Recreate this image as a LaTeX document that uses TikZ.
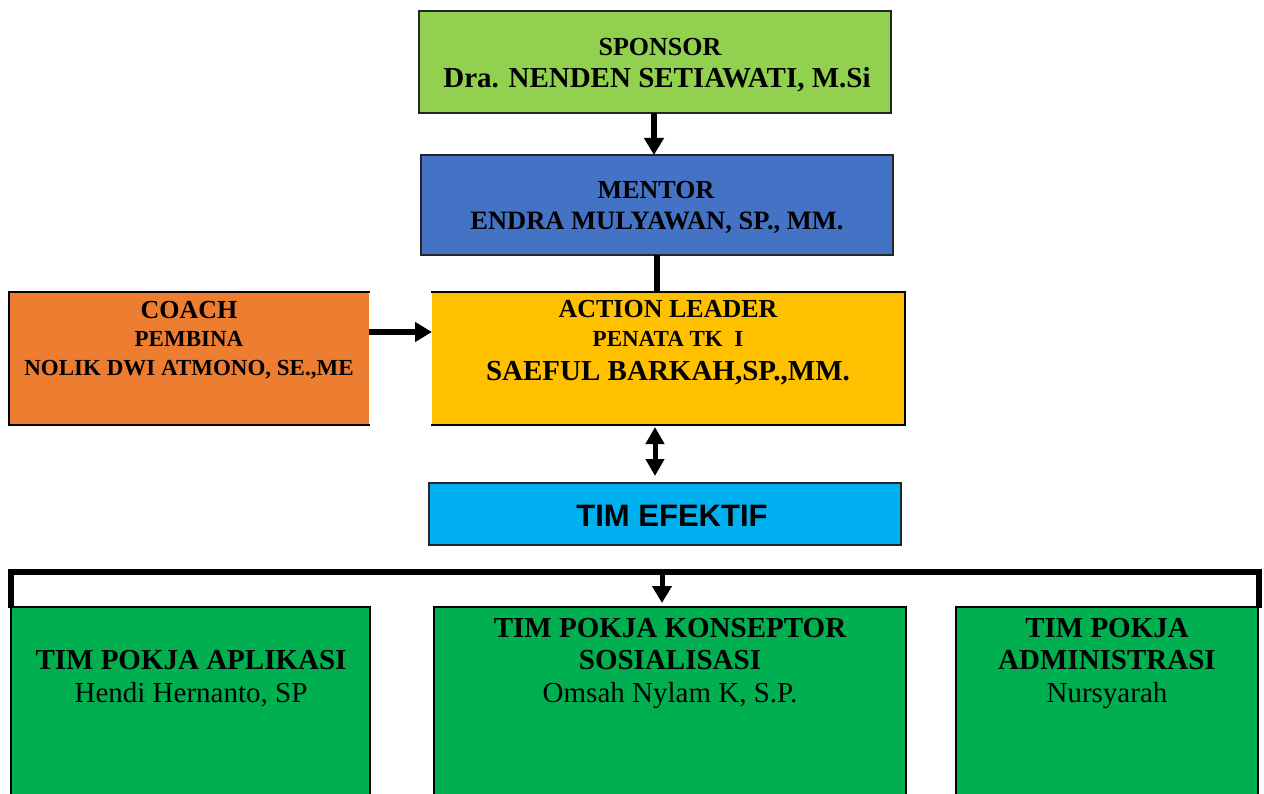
\documentclass[tikz,border=0pt]{standalone}
\usepackage{fontspec}
\setmainfont{Liberation Serif}
\setsansfont{Liberation Sans}
\usetikzlibrary{arrows.meta,calc}
\definecolor{cspon}{HTML}{92D050}
\definecolor{cment}{HTML}{4472C4}
\definecolor{ccoach}{HTML}{ED7D31}
\definecolor{cal}{HTML}{FFC000}
\definecolor{ctim}{HTML}{00B0F0}
\definecolor{cgrn}{HTML}{00B050}
\begin{document}
\begin{tikzpicture}[x=1pt,y=-1pt,
  box/.style={rectangle,inner sep=0pt,outer sep=0pt,draw=black!85,line width=1.3pt},
  nob/.style={rectangle,inner sep=0pt,outer sep=0pt,draw=none},
  gbox/.style={rectangle,inner sep=0pt,outer sep=0pt,draw=black,line width=2pt,fill=cgrn,minimum height=213pt},
  txt/.style={inner sep=0pt,anchor=base,align=center},
  fa/.style={font=\bfseries\fontsize{26}{30}\selectfont},
  fd/.style={font=\bfseries\fontsize{26.5}{30}\selectfont},
  fb/.style={font=\bfseries\fontsize{29}{33}\selectfont},
  fc/.style={font=\bfseries\fontsize{23}{27}\selectfont},
  fr/.style={font=\fontsize{29}{33}\selectfont},
  fs/.style={font=\sffamily\bfseries\fontsize{31}{35}\selectfont},
  arr/.style={line width=6pt,-{Triangle[length=17pt,width=19pt]}},
  dbl/.style={line width=5pt,{Triangle[length=17pt,width=18pt]}-{Triangle[length=17pt,width=18pt]}},
  edgeline/.style={line width=2pt,line cap=rect}
]
\useasboundingbox (0,0) rectangle (1264,794);
\clip (0,0) rectangle (1264,794);

% boxes
\node[box,fill=cspon,minimum width=472pt,minimum height=102pt] (sponsor) at (655,62) {};
\node[box,fill=cment,minimum width=472pt,minimum height=100pt] (mentor) at (657,205) {};
\node[nob,fill=ccoach,minimum width=360pt,minimum height=133pt] (coach) at (189,358.5) {};
\node[nob,fill=cal,minimum width=473pt,minimum height=133pt] (al) at (668.5,358.5) {};
\node[box,fill=ctim,minimum width=472pt,minimum height=62pt] (tim) at (665,514) {};
\node[gbox,minimum width=359pt] (b1) at (190.5,713.5) {};
\node[gbox,minimum width=472pt] (b2) at (670,713.5) {};
\node[gbox,minimum width=302pt] (b3) at (1107,713.5) {};

\draw[edgeline] (coach.north east) -- (coach.north west) -- (coach.south west) -- (coach.south east);
\draw[edgeline] (al.north west) -- (al.north east) -- (al.south east) -- (al.south west);

% texts
\node[txt,fa] (t-sp1) at (660,56) {SPONSOR};
\node[txt,fb] (t-sp2) at (657,88) {Dra. NENDEN SETIAWATI, M.Si};
\node[txt,fa] (t-me1) at (656,199) {MENTOR};
\node[txt,fd] (t-me2) at (657,230) {ENDRA MULYAWAN, SP., MM.};
\node[txt,fa] (t-co1) at (189,319) {COACH};
\node[txt,fc] (t-co2) at (189,347) {PEMBINA};
\node[txt,fc] (t-co3) at (189,375) {NOLIK DWI ATMONO, SE.,ME};
\node[txt,fa] (t-al1) at (668,318) {ACTION LEADER};
\node[txt,fc] (t-al2) at (668,347) {PENATA TK\ \ I};
\node[txt,fb] (t-al3) at (668,381) {SAEFUL BARKAH,SP.,MM.};
\node[txt,fs] (t-tim) at (672,526) {TIM EFEKTIF};
\node[txt,fb] (t-b11) at (191,669) {TIM POKJA APLIKASI};
\node[txt,fr] (t-b12) at (191,702) {Hendi Hernanto, SP};
\node[txt,fb] (t-b21) at (670,637) {TIM POKJA KONSEPTOR};
\node[txt,fb] (t-b22) at (670,669) {SOSIALISASI};
\node[txt,fr] (t-b23) at (670,702) {Omsah Nylam K, S.P.};
\node[txt,fb] (t-b31) at (1107,637) {TIM POKJA};
\node[txt,fb] (t-b32) at (1107,669) {ADMINISTRASI};
\node[txt,fr] (t-b33) at (1107,702) {Nursyarah};

% connectors
\coordinate (a1) at ($(sponsor.south)+(-1,0)$);
\draw[arr] (a1) -- (a1 |- mentor.north);
\draw[line width=6pt] (mentor.south) -- (mentor.south |- al.north);
\coordinate (c1) at ($(coach.north east)+(0,40)$);
\draw[arr] (c1) -- (c1 -| al.west);
\coordinate (d1) at ($(al.south)+(-13.5,2)$);
\coordinate (d2) at ($(tim.north)+(-10,-7)$);
\draw[dbl] (d1) -- (d1 |- d2);
\coordinate (bl) at (11,608);
\coordinate (bL) at (11,572);
\coordinate (bR) at (1259,572);
\coordinate (br) at (1259,608);
\draw[line width=6pt,line join=miter] (bl) -- (bL) -- (bR) -- (br);
\coordinate (bm) at (662,575);
\draw[arr,line width=5pt,shorten >=4pt] (bm) -- (bm |- b2.north);
\end{tikzpicture}
\end{document}
